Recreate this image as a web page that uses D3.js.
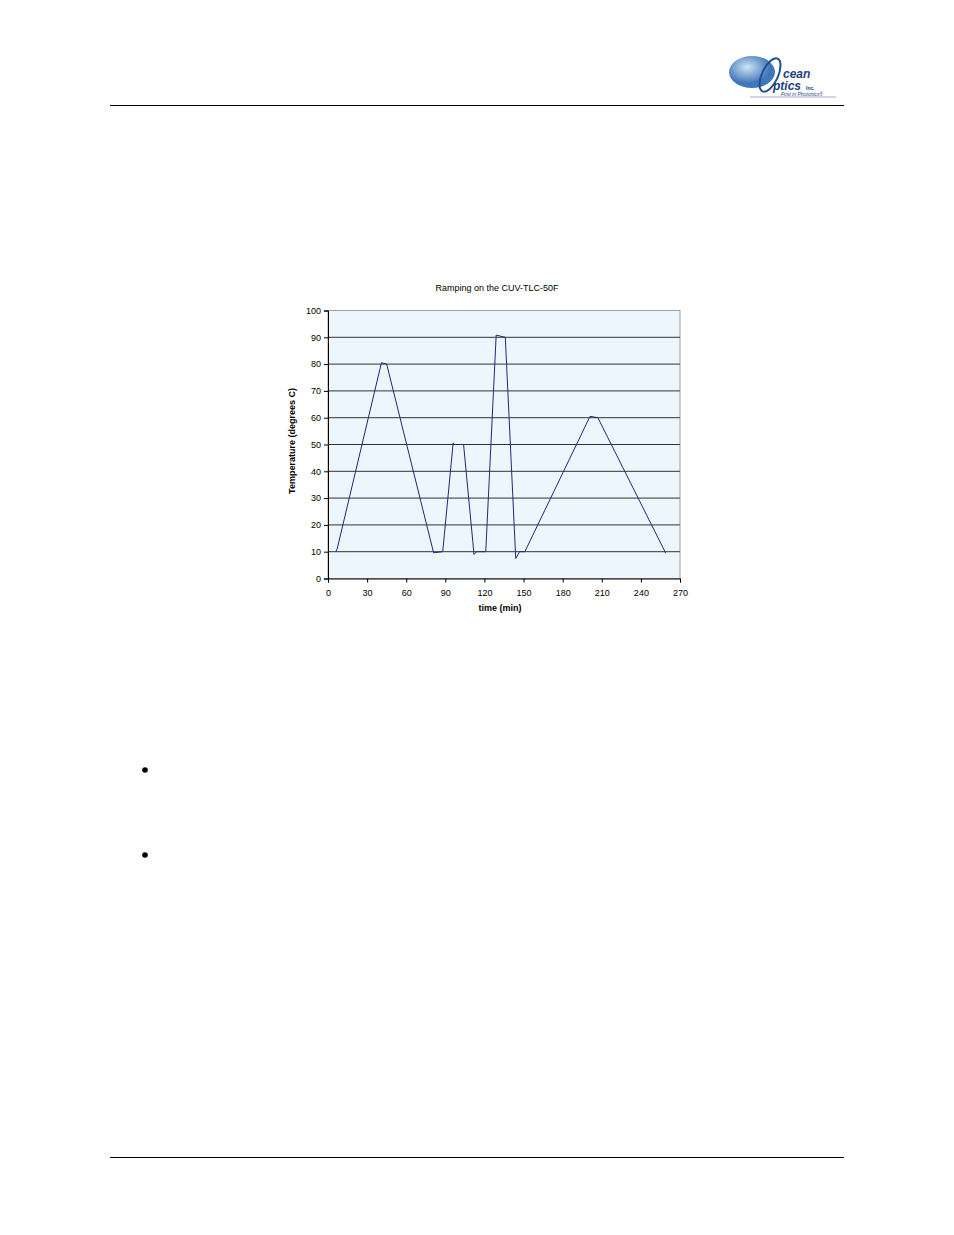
<!DOCTYPE html>
<html><head><meta charset="utf-8">
<script src="https://cdn.jsdelivr.net/npm/d3@7"></script>
<style>body{margin:0;background:#fff}svg{display:block}</style>
</head><body>
<script>
const times = [6, 7, 41, 45, 81, 88, 96, 97, 104, 112, 114, 121, 129, 136, 144, 147, 151, 201, 207, 259];
const temps = [10, 11, 80.5, 80, 9.6, 10, 50.6, 50, 50, 9, 10, 10, 90.8, 90, 7.5, 10, 10, 60.5, 60, 9.5];
const xTicks = [0, 30, 60, 90, 120, 150, 180, 210, 240, 270];
const yTicks = [0, 10, 20, 30, 40, 50, 60, 70, 80, 90, 100];
const chartTitle = "Ramping on the CUV-TLC-50F";
const xTitle = "time (min)";
const yTitle = "Temperature (degrees C)";

const W = 954, H = 1235;
const svg = d3.select("body").append("svg").attr("width", W).attr("height", H);

// page header/footer
svg.append("line").attr("x1", 110).attr("x2", 844).attr("y1", 105.5).attr("y2", 105.5).attr("stroke", "#000").attr("stroke-width", 1);
svg.append("line").attr("x1", 110).attr("x2", 844).attr("y1", 1157.5).attr("y2", 1157.5).attr("stroke", "#000").attr("stroke-width", 1);
svg.append("circle").attr("cx", 145).attr("cy", 770).attr("r", 2.8).attr("fill", "#000");
svg.append("circle").attr("cx", 145).attr("cy", 855).attr("r", 2.8).attr("fill", "#000");

// logo
const logo = svg.append("g");
const grad = svg.append("defs").append("radialGradient").attr("id", "globe").attr("cx", "40%").attr("cy", "35%");
grad.append("stop").attr("offset", "0%").attr("stop-color", "#cfe3f5");
grad.append("stop").attr("offset", "100%").attr("stop-color", "#3f78b8");
logo.append("ellipse").attr("cx", 752).attr("cy", 72).attr("rx", 23).attr("ry", 16).attr("fill", "url(#globe)");
logo.append("ellipse").attr("cx", 770).attr("cy", 75).attr("rx", 8).attr("ry", 18).attr("fill", "none").attr("stroke", "#1f4f94").attr("stroke-width", 2).attr("transform", "rotate(25 770 75)");
logo.append("text").attr("x", 783).attr("y", 78).attr("font-family", "Liberation Sans, Arial, sans-serif").attr("font-weight", "bold").attr("font-style", "italic").attr("font-size", 12).attr("fill", "#1f3f80").text("cean");
logo.append("text").attr("x", 773).attr("y", 90).attr("font-family", "Liberation Sans, Arial, sans-serif").attr("font-weight", "bold").attr("font-style", "italic").attr("font-size", 12).attr("fill", "#1f3f80").text("ptics");
logo.append("text").attr("x", 806).attr("y", 90).attr("font-family", "Liberation Sans, Arial, sans-serif").attr("font-weight", "bold").attr("font-size", 5).attr("fill", "#1f3f80").text("Inc.");
logo.append("line").attr("x1", 750).attr("x2", 836).attr("y1", 97).attr("y2", 97).attr("stroke", "#7a8ab0").attr("stroke-width", 0.7);
logo.append("text").attr("x", 781).attr("y", 96).attr("font-family", "Liberation Sans, Arial, sans-serif").attr("font-style", "italic").attr("font-size", 5).attr("fill", "#1f3f80").text("First in Photonics®");

// chart
const x = d3.scaleLinear().domain([0, 270]).range([328, 680]);
const y = d3.scaleLinear().domain([0, 100]).range([578.5, 310.5]);
const font = "Liberation Sans, Arial, sans-serif";

svg.append("rect").attr("x", x(0)).attr("y", y(100)).attr("width", x(270) - x(0)).attr("height", y(0) - y(100))
  .attr("fill", "#eef6fd").attr("stroke", "#a0a0a0").attr("stroke-width", 1);

svg.append("g").selectAll("line").data(yTicks.filter(d => d > 0 && d < 100)).join("line")
  .attr("x1", x(0)).attr("x2", x(270)).attr("y1", d => y(d)).attr("y2", d => y(d))
  .attr("stroke", "#333").attr("stroke-width", 1);

const yAxis = svg.append("g").attr("transform", `translate(${x(0)},0)`)
  .call(d3.axisLeft(y).tickValues(yTicks).tickSize(4).tickPadding(3));
const xAxis = svg.append("g").attr("transform", `translate(0,${y(0)})`)
  .call(d3.axisBottom(x).tickValues(xTicks).tickSize(4).tickPadding(7));
[yAxis, xAxis].forEach(a => {
  a.select(".domain").attr("stroke", "#000");
  a.selectAll(".tick line").attr("stroke", "#000");
  a.selectAll("text").attr("font-family", font).attr("font-size", 9).attr("fill", "#000");
});

const pts = times.map((t, i) => [t, temps[i]]);
svg.append("path").datum(pts)
  .attr("d", d3.line().x(d => x(d[0])).y(d => y(d[1])))
  .attr("fill", "none").attr("stroke", "#1c2a7a").attr("stroke-width", 1);

svg.append("text").attr("x", 497).attr("y", 291).attr("text-anchor", "middle")
  .attr("font-family", font).attr("font-size", 9).attr("fill", "#000").text(chartTitle);
svg.append("text").attr("x", 500).attr("y", 611).attr("text-anchor", "middle")
  .attr("font-family", font).attr("font-size", 9).attr("font-weight", "bold").attr("fill", "#000").text(xTitle);
svg.append("text").attr("transform", "translate(295,441) rotate(-90)").attr("text-anchor", "middle")
  .attr("font-family", font).attr("font-size", 9).attr("font-weight", "bold").attr("fill", "#000").text(yTitle);
</script>
</body></html>
